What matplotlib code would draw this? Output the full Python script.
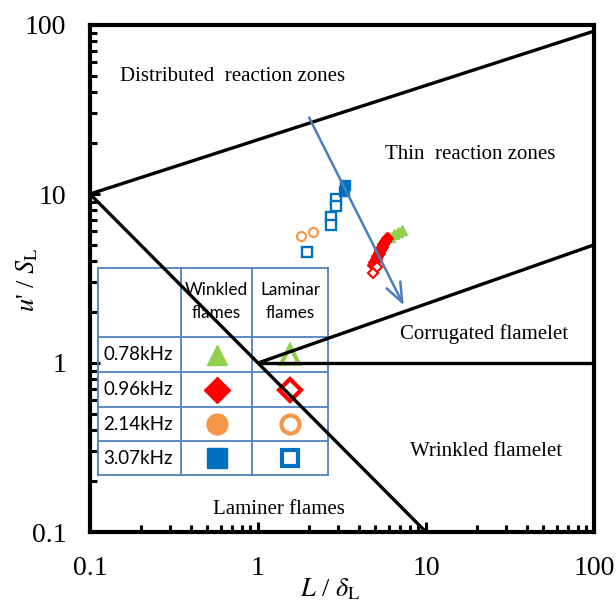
import matplotlib
matplotlib.use("Agg")
import matplotlib.pyplot as plt
from matplotlib.lines import Line2D

plt.rcParams['mathtext.fontset'] = 'stix'
SERIF = ['Liberation Serif', 'DejaVu Serif']
SANS = ['Lato', 'DejaVu Sans']

# ---------------- data ----------------
# regime boundary lines (L/delta_L, u'/S_L)
ka100_x = [0.1, 100]; ka100_y = [10, 92]
re1_x = [0.1, 10];    re1_y = [10, 0.1]
ka1_x = [1, 100];     ka1_y = [1, 5.0]
unity_x = [1, 100];   unity_y = [1, 1]

# 3.07 kHz
sq_fill_x = [3.30, 3.25]
sq_fill_y = [11.3, 10.4]
sq_open_x = [2.91, 2.91, 2.72, 2.73, 1.95]
sq_open_y = [9.34, 8.49, 7.31, 6.56, 4.54]
# 2.14 kHz
ci_open_x = [1.80, 2.12]
ci_open_y = [5.64, 5.96]
# 0.78 kHz
tri_fill_x = [6.11, 6.45, 6.81, 7.19]
tri_fill_y = [5.57, 5.80, 5.96, 6.12]
# 0.96 kHz
dia_fill_x = [5.86, 5.70, 5.55, 5.47, 5.32, 5.25, 5.11, 5.04, 4.90, 4.84]
dia_fill_y = [5.49, 5.27, 5.06, 4.86, 4.66, 4.48, 4.30, 4.12, 3.96, 3.80]
dia_open_x = [5.11, 4.84]
dia_open_y = [3.70, 3.41]

arrow_start = (1.98, 29.3)
arrow_end = (7.5, 2.12)

freq_labels = ['0.78kHz', '0.96kHz', '2.14kHz', '3.07kHz']
col_headers = ['Winkled\nflames', 'Laminar\nflames']

GREEN = '#92D050'; RED = '#FF0000'; ORANGE = '#F79646'; BLUE = '#0070C0'
TABLE_C = '#4F81BD'

# ---------------- figure ----------------
fig = plt.figure(figsize=(6.16, 6.04), dpi=100)
ax = fig.add_axes([90/616, 1-532/604, 504/616, 507/604])
ax.set_xscale('log'); ax.set_yscale('log')
ax.set_xlim(0.1, 100); ax.set_ylim(0.1, 100)

for s in ax.spines.values():
    s.set_linewidth(3.0)
ax.tick_params(which='both', direction='in', top=False, right=False, width=2.2)
ax.tick_params(which='major', length=7, labelsize=20, pad=17)
ax.tick_params(which='minor', length=5)
ax.set_xticks([0.1, 1, 10, 100]); ax.set_xticklabels(['0.1', '1', '10', '100'])
ax.set_yticks([0.1, 1, 10, 100]); ax.set_yticklabels(['0.1', '1', '10', '100'])
for lab in ax.get_xticklabels() + ax.get_yticklabels():
    lab.set_family(SERIF)

lw = 2.4
for xs, ys in [(ka100_x, ka100_y), (re1_x, re1_y), (ka1_x, ka1_y), (unity_x, unity_y)]:
    ax.plot(xs, ys, color='black', lw=lw, solid_capstyle='butt', zorder=5)

# data markers
ax.plot(tri_fill_x, tri_fill_y, ls='none', marker='^', ms=7.5, mfc=GREEN, mec=GREEN, zorder=6)
ax.plot(dia_fill_x, dia_fill_y, ls='none', marker='D', ms=6, mfc=RED, mec=RED, zorder=7)
ax.plot(dia_open_x, dia_open_y, ls='none', marker='D', ms=5, mfc='white', mec=RED, mew=1.5, zorder=7)
ax.plot(ci_open_x, ci_open_y, ls='none', marker='o', ms=6.5, mfc='white', mec=ORANGE, mew=1.5, zorder=6)
ax.plot(sq_open_x, sq_open_y, ls='none', marker='s', ms=6.5, mfc='white', mec=BLUE, mew=1.7, zorder=6)
ax.plot(sq_fill_x, sq_fill_y, ls='none', marker='s', ms=7.5, mfc=BLUE, mec=BLUE, zorder=6)

ax.annotate('', xy=arrow_end, xytext=arrow_start,
            arrowprops=dict(arrowstyle='->,head_length=1.4,head_width=0.55', color='#4A7EBB', lw=1.8),
            zorder=8)

# regime labels
tfs = 15
ax.text(0.283, 0.898, 'Distributed  reaction zones', transform=ax.transAxes, ha='center', va='center', fontsize=tfs, family=SERIF)
ax.text(0.754, 0.744, 'Thin  reaction zones', transform=ax.transAxes, ha='center', va='center', fontsize=tfs, family=SERIF)
ax.text(0.782, 0.391, 'Corrugated flamelet', transform=ax.transAxes, ha='center', va='center', fontsize=tfs, family=SERIF)
ax.text(0.786, 0.158, 'Wrinkled flamelet', transform=ax.transAxes, ha='center', va='center', fontsize=tfs, family=SERIF)
ax.text(0.375, 0.045, 'Laminer flames', transform=ax.transAxes, ha='center', va='center', fontsize=tfs, family=SERIF)

ax.set_xlabel(r"$L$ / $\delta_{\mathrm{L}}$", fontsize=19, family=SERIF)
ax.set_ylabel(r"$u$' / $S_{\mathrm{L}}$", fontsize=19, family=SERIF)
ax.xaxis.set_label_coords(0.476, -0.088)
ax.yaxis.set_label_coords(-0.100, 0.497)

# ---------------- table legend (axes fraction coords) ----------------
def fx(px): return (px - 90) / 504
def fy(py): return (532 - py) / 507

cols = [98, 181, 252, 328]
rows = [268, 337, 372, 407, 441, 475]
tl = dict(color=TABLE_C, lw=1.3, transform=ax.transAxes, zorder=3, clip_on=False)
for c in cols:
    ax.add_line(Line2D([fx(c), fx(c)], [fy(rows[0]), fy(rows[-1])], **tl))
for r in rows:
    ax.add_line(Line2D([fx(cols[0]), fx(cols[-1])], [fy(r), fy(r)], **tl))

for i, h in enumerate(col_headers):
    cx = (cols[i+1] + cols[i+2]) / 2
    ax.text(fx(cx), fy((rows[0] + rows[1]) / 2 - 1), h, transform=ax.transAxes, ha='center', va='center',
            fontsize=12.3, family=SANS, linespacing=1.6, zorder=4)

styles = [('^', GREEN), ('D', RED), ('o', ORANGE), ('s', BLUE)]
msz = [15, 13, 15, 14]
for j, lab in enumerate(freq_labels):
    cy = (rows[j+1] + rows[j+2]) / 2
    ax.text(fx(cols[0] + 5), fy(cy), lab, transform=ax.transAxes, ha='left', va='center',
            fontsize=13.5, family=SANS, zorder=4)
    m, col = styles[j]
    cx1 = (cols[1] + cols[2]) / 2
    cx2 = (cols[2] + cols[3]) / 2
    ax.plot([fx(cx1)], [fy(cy)], marker=m, ms=msz[j], mfc=col, mec=col, transform=ax.transAxes, zorder=4, clip_on=False)
    ax.plot([fx(cx2)], [fy(cy)], marker=m, ms=msz[j] - 2, mfc='white', mec=col, mew=3, transform=ax.transAxes, zorder=4, clip_on=False)

fig.savefig('out.png', dpi=100)
